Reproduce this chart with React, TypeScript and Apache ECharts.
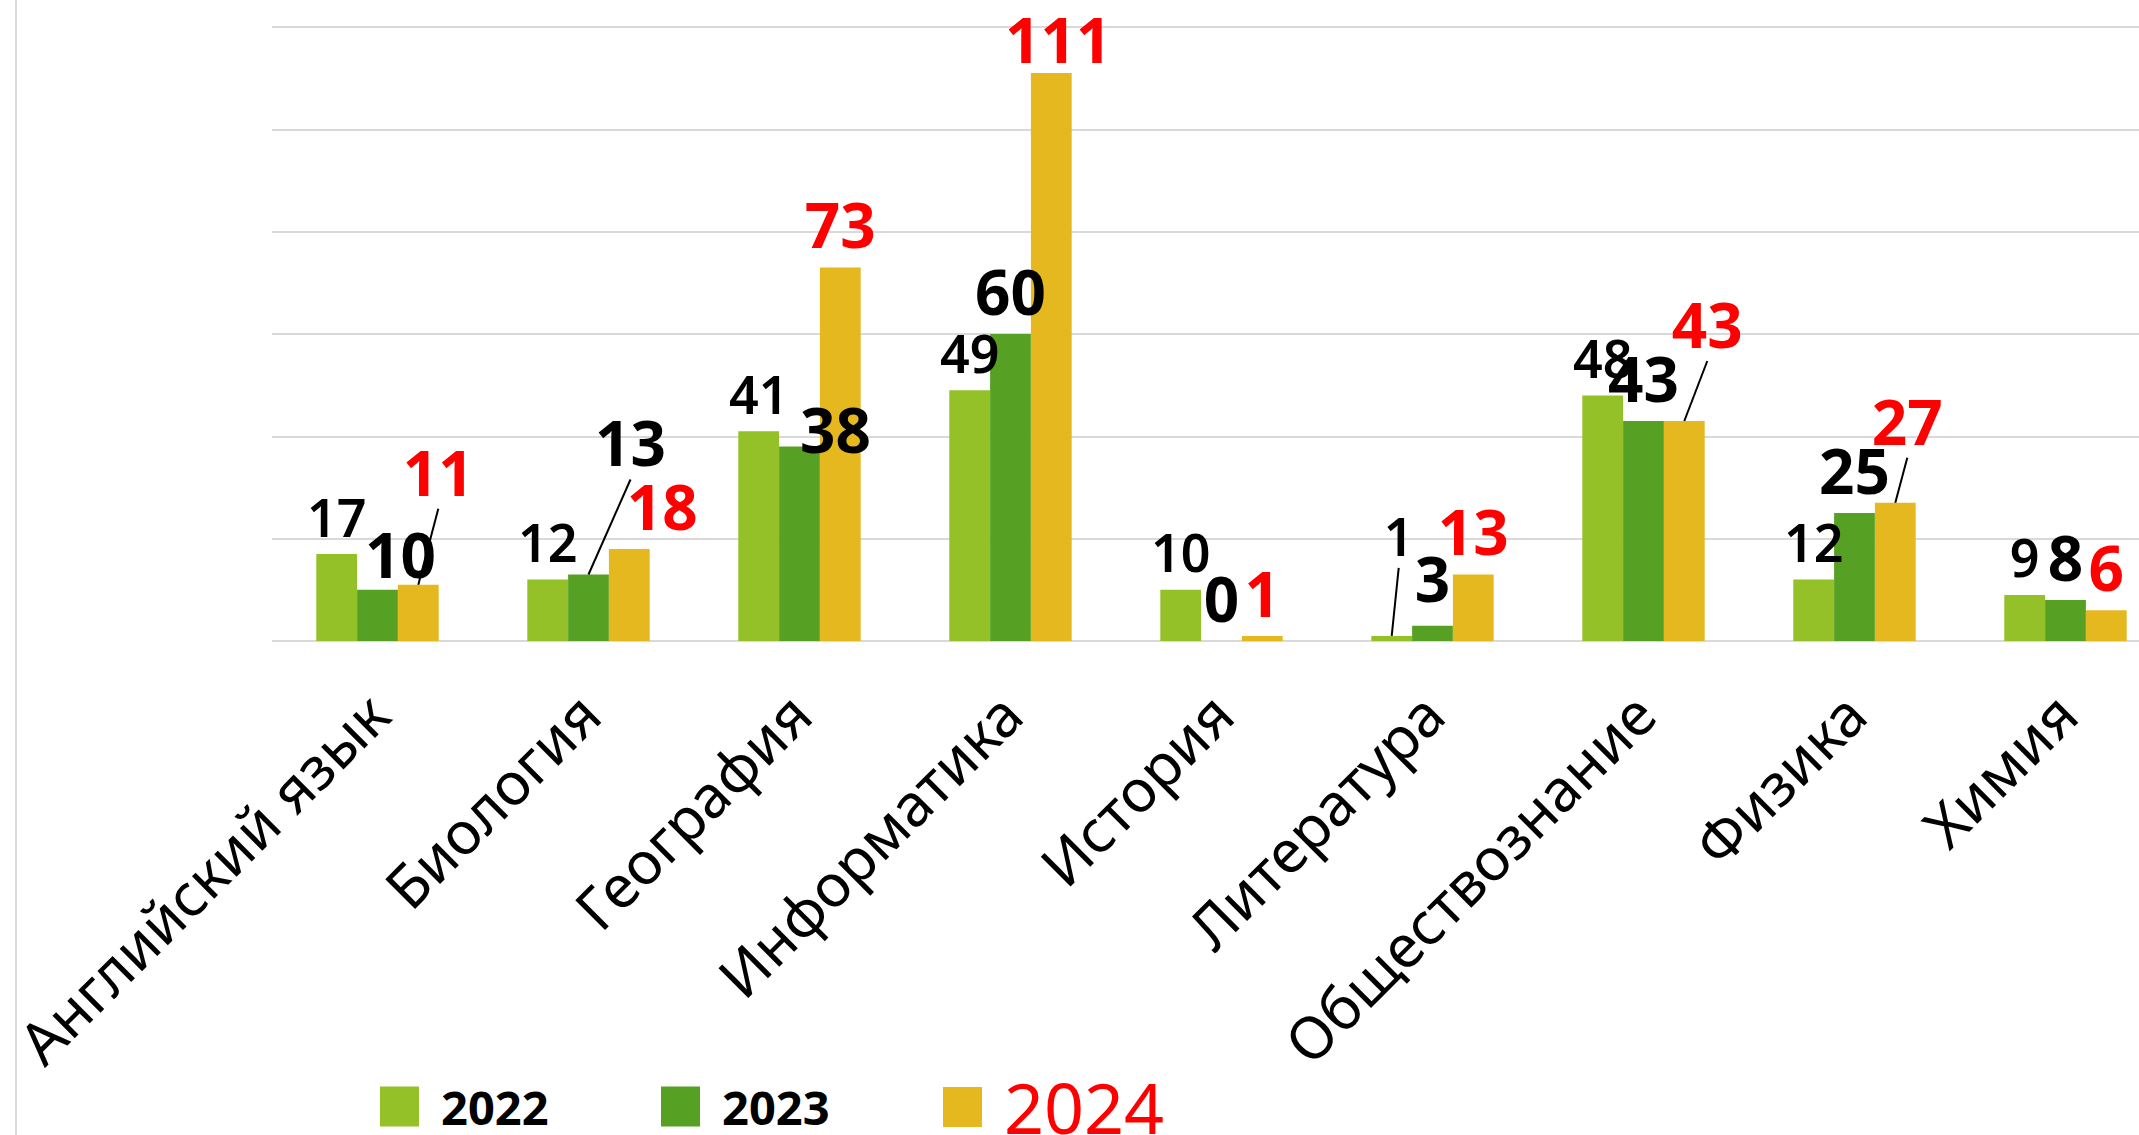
import React, { useEffect, useRef } from "react";
import * as echarts from "echarts";

const categories = [
  "Английский язык",
  "Биология",
  "География",
  "Информатика",
  "История",
  "Литература",
  "Обществознание",
  "Физика",
  "Химия",
];
const seriesNames = ["2022", "2023", "2024"];
const values2022 = [17, 12, 41, 49, 10, 1, 48, 12, 9];
const values2023 = [10, 13, 38, 60, 0, 3, 43, 25, 8];
const values2024 = [11, 18, 73, 111, 1, 13, 43, 27, 6];
const yTicks = [0, 20, 40, 60, 80, 100, 120];

const colors = ["#93C127", "#56A123", "#E5B820"];
const FONT = "Noto Sans";
const BAR_CATEGORY_GAP = 0.42;

// label displacement (pixels) relative to default position; line = leader line
const labelShifts: Record<string, { dx: number; dy: number; line?: boolean }> = {
  "0-5": { dx: 7, dy: -62, line: true },
  "1-0": { dx: 23, dy: 7 },
  "1-1": { dx: 42, dy: -89, line: true },
  "1-2": { dx: 36, dy: 25 },
  "1-5": { dx: 0, dy: -5 },
  "2-0": { dx: 20, dy: -70, line: true },
  "2-1": { dx: 33, dy: 0 },
  "2-3": { dx: 7, dy: 9 },
  "2-6": { dx: 23, dy: -54, line: true },
  "2-7": { dx: 12, dy: -39, line: true },
};

const labelStyles = [
  { fontSize: 52, fontWeight: 600, color: "#000000" },
  { fontSize: 62, fontWeight: "bold", color: "#000000" },
  { fontSize: 62, fontWeight: "bold", color: "#FF0000" },
];

const legendStyles = [
  { left: 380, top: 1083, fontSize: 47, fontWeight: "bold", color: "#000000" },
  { left: 661, top: 1083, fontSize: 47, fontWeight: "bold", color: "#000000" },
  { left: 943, top: 1072, fontSize: 70, fontWeight: "normal", color: "#FF0000" },
];

export default function App() {
  const ref = useRef<HTMLDivElement>(null);
  useEffect(() => {
    if (!ref.current) return;
    const chart = echarts.init(ref.current, null, { renderer: "svg" });
    const allValues = [values2022, values2023, values2024];
    const series = allValues.map((vals, s) => ({
      name: seriesNames[s],
      type: "bar",
      barGap: "0%",
      barCategoryGap: `${BAR_CATEGORY_GAP * 100}%`,
      itemStyle: { color: colors[s] },
      label: {
        show: true,
        position: "top",
        distance: 12,
        fontFamily: FONT,
        ...labelStyles[s],
      },
      labelLayout: (params: any) => {
        const sh = labelShifts[`${params.seriesIndex}-${params.dataIndex}`];
        if (!sh) return {};
        return { dx: sh.dx, dy: sh.dy };
      },
      data: vals,
    }));

    chart.setOption({
      animation: false,
      backgroundColor: "#ffffff",
      grid: {
        left: 272,
        top: 27,
        width: 1899,
        height: 614,
        containLabel: false,
        outerBoundsMode: "none",
      },
      legend: legendStyles.map((ls, i) => ({
        data: [
          {
            name: seriesNames[i],
            textStyle: {
              fontSize: ls.fontSize,
              fontWeight: ls.fontWeight,
              color: ls.color,
              fontFamily: FONT,
              padding: [0, 0, 0, 17],
            },
          },
        ],
        left: ls.left,
        top: ls.top,
        padding: 0,
        icon: "rect",
        itemWidth: 39,
        itemHeight: 40,
        selectedMode: false,
      })),
      xAxis: {
        type: "category",
        data: categories,
        axisLine: { show: false },
        axisTick: { show: false },
        axisLabel: {
          interval: 0,
          rotate: 45,
          margin: 62,
          fontSize: 59,
          color: "#000000",
          fontFamily: FONT,
        },
      },
      yAxis: {
        type: "value",
        min: yTicks[0],
        max: yTicks[yTicks.length - 1],
        interval: yTicks[1] - yTicks[0],
        axisLabel: { show: false },
        axisLine: { show: false },
        axisTick: { show: false },
        splitLine: { show: true, lineStyle: { color: "#D9D9D9", width: 2 } },
      },
      graphic: [
        {
          id: "leftBorder",
          type: "line",
          shape: { x1: 16, y1: 0, x2: 16, y2: 1135 },
          style: { stroke: "#D9D9D9", lineWidth: 2 },
        },
      ],
      series,
    });

    // leader lines for displaced labels, positioned through the axes' scales
    const c0 = chart.convertToPixel({ xAxisIndex: 0 }, 0) as number;
    const c1 = chart.convertToPixel({ xAxisIndex: 0 }, 1) as number;
    const catW = c1 - c0;
    const barW = (catW * (1 - BAR_CATEGORY_GAP)) / 3;
    const leaders: any[] = [];
    Object.keys(labelShifts).forEach((key) => {
      const sh = labelShifts[key];
      if (!sh.line) return;
      const [s, i] = key.split("-").map(Number);
      const v = allValues[s][i];
      const pt = chart.convertToPixel({ seriesIndex: s }, [i, v]) as number[];
      const bx = pt[0] + (s - 1) * barW;
      const by = pt[1];
      leaders.push({
        id: `leader-${key}`,
        type: "line",
        z: 100,
        shape: { x1: bx, y1: by, x2: bx + sh.dx, y2: by + sh.dy - 6 },
        style: { stroke: "#000000", lineWidth: 2 },
      });
    });
    chart.setOption({
      graphic: [
        {
          id: "leftBorder",
          type: "line",
          shape: { x1: 16, y1: 0, x2: 16, y2: 1135 },
          style: { stroke: "#D9D9D9", lineWidth: 2 },
        },
        ...leaders,
      ],
    });
    return () => chart.dispose();
  }, []);
  return (
    <div
      ref={ref}
      style={{ position: "fixed", left: 0, top: 0, width: 2139, height: 1135, background: "#fff" }}
    />
  );
}
